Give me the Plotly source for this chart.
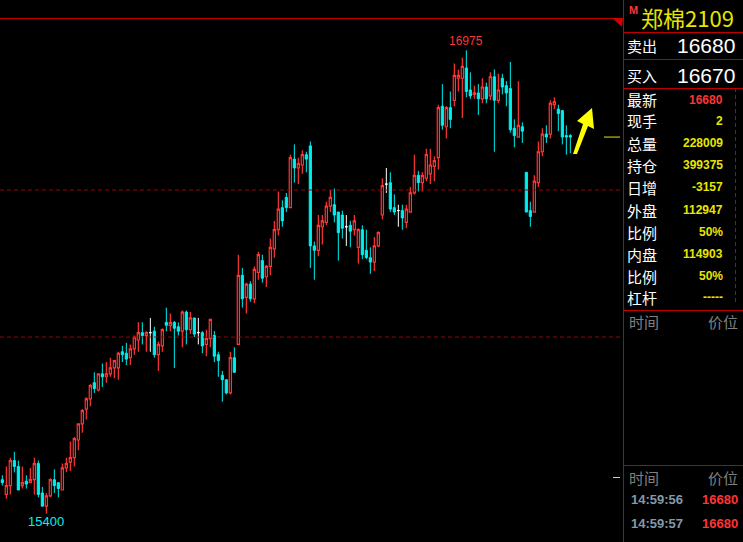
import plotly.graph_objects as go

# ---------------- data ----------------
opens = [15515, 15465, 15495, 15580, 15560, 15495, 15510, 15505, 15515, 15570,
         15470, 15425, 15460, 15515, 15505, 15480, 15555, 15575, 15590, 15650,
         15705, 15755, 15790, 15845, 15820, 15875, 15865, 15875, 15895, 15895,
         15950, 15945, 15930, 15960, 15990, 16015, 16005, 16015, 16020, 15940,
         15970, 16050, 16040, 16050, 16035, 16020, 16085, 16025, 16065, 16015,
         16015, 15975, 15995, 16005, 15940, 15870, 15855, 15810, 15930, 15975,
         16210, 16135, 16180, 16130, 16220, 16260, 16205, 16240, 16300, 16365,
         16440, 16475, 16440, 16605, 16575, 16585, 16620, 16650, 16310, 16295,
         16375, 16390, 16445, 16450, 16425, 16415, 16375, 16380, 16365, 16305,
         16365, 16295, 16270, 16255, 16310, 16415, 16520, 16525, 16440, 16430,
         16430, 16390, 16425, 16490, 16550, 16525, 16540, 16555, 16580, 16610,
         16785, 16715, 16780, 16805, 16880, 16880, 16915, 16840, 16825, 16830,
         16810, 16850, 16820, 16885, 16805, 16880, 16855, 16845, 16710, 16680,
         16715, 16560, 16430, 16425, 16525, 16630, 16690, 16690, 16790, 16775,
         16770, 16685, 16685]
highs = [15530, 15560, 15590, 15610, 15580, 15560, 15530, 15555, 15590, 15580,
         15490, 15470, 15520, 15550, 15505, 15570, 15590, 15645, 15660, 15705,
         15755, 15795, 15840, 15880, 15875, 15910, 15915, 15930, 15920, 15950,
         15970, 15980, 15975, 16005, 16050, 16050, 16020, 16065, 16035, 15985,
         16030, 16100, 16080, 16055, 16050, 16090, 16090, 16085, 16065, 16065,
         16020, 16025, 16060, 16020, 15950, 15885, 15855, 15950, 15965, 16280,
         16235, 16185, 16190, 16240, 16290, 16280, 16245, 16335, 16395, 16495,
         16465, 16490, 16620, 16655, 16610, 16635, 16630, 16665, 16325, 16415,
         16415, 16460, 16500, 16505, 16425, 16430, 16415, 16395, 16415, 16370,
         16380, 16365, 16305, 16340, 16360, 16540, 16575, 16560, 16485, 16450,
         16450, 16450, 16510, 16620, 16565, 16560, 16640, 16640, 16615, 16790,
         16860, 16785, 16835, 16930, 16910, 16950, 16975, 16900, 16855, 16860,
         16880, 16865, 16900, 16910, 16895, 16895, 16870, 16935, 16740, 16870,
         16730, 16560, 16460, 16550, 16665, 16710, 16720, 16805, 16815, 16790,
         16770, 16720, 16690]
lows = [15495, 15450, 15465, 15540, 15480, 15485, 15485, 15505, 15465, 15455,
        15425, 15400, 15455, 15470, 15455, 15480, 15540, 15545, 15560, 15615,
        15675, 15720, 15765, 15810, 15815, 15830, 15845, 15865, 15860, 15855,
        15915, 15905, 15905, 15940, 15950, 15975, 15950, 15950, 15930, 15885,
        15950, 16020, 16020, 15895, 16005, 15965, 15975, 16010, 16000, 15975,
        15945, 15935, 15965, 15915, 15865, 15780, 15805, 15805, 15880, 15975,
        16100, 16080, 16120, 16115, 16195, 16185, 16170, 16210, 16270, 16345,
        16375, 16425, 16440, 16525, 16520, 16555, 16560, 16235, 16195, 16275,
        16315, 16380, 16425, 16390, 16260, 16335, 16310, 16305, 16345, 16250,
        16265, 16265, 16215, 16225, 16305, 16400, 16490, 16425, 16415, 16375,
        16365, 16370, 16425, 16485, 16495, 16495, 16530, 16520, 16530, 16570,
        16705, 16675, 16710, 16785, 16835, 16745, 16815, 16810, 16810, 16755,
        16795, 16795, 16805, 16630, 16795, 16825, 16785, 16695, 16645, 16680,
        16660, 16425, 16375, 16425, 16510, 16615, 16660, 16675, 16775, 16700,
        16655, 16620, 16625]
closes = [15505, 15495, 15580, 15560, 15480, 15505, 15500, 15515, 15570, 15465,
          15425, 15460, 15515, 15495, 15485, 15555, 15570, 15590, 15655, 15705,
          15750, 15790, 15835, 15825, 15875, 15865, 15875, 15895, 15920, 15945,
          15940, 15925, 15960, 16000, 16015, 16005, 16015, 16015, 15940, 15975,
          16025, 16040, 16050, 16030, 16020, 16085, 16025, 16065, 16010, 16015,
          15970, 15995, 16060, 15935, 15920, 15855, 15810, 15930, 15880, 16210,
          16130, 16180, 16130, 16230, 16280, 16200, 16240, 16305, 16365, 16435,
          16395, 16440, 16610, 16575, 16590, 16620, 16605, 16310, 16295, 16380,
          16395, 16445, 16475, 16415, 16355, 16370, 16375, 16360, 16395, 16365,
          16280, 16270, 16255, 16310, 16355, 16515, 16520, 16435, 16425, 16430,
          16405, 16435, 16490, 16550, 16525, 16550, 16620, 16585, 16600, 16780,
          16720, 16780, 16740, 16890, 16890, 16920, 16835, 16820, 16830, 16810,
          16850, 16810, 16885, 16805, 16840, 16850, 16830, 16705, 16685, 16720,
          16700, 16425, 16410, 16530, 16630, 16690, 16680, 16795, 16800, 16760,
          16680, 16680, 16680]

dashed_levels = [16500, 16000]
last_price = 16680

contract = "郑棉2109"
quote_labels = ["卖出", "买入"]
quote_values = ["16680", "16670"]
info_labels = ["最新", "现手", "总量", "持仓", "日增", "外盘", "比例", "内盘", "比例", "杠杆"]
info_values = ["16680", "2", "228009", "399375", "-3157", "112947", "50%", "114903", "50%", "-----"]
tick_times = ["14:59:56", "14:59:57"]
tick_prices = ["16680", "16680"]

# ---------------- styling ----------------
W, H = 743, 542
PANEL_X = 623
RED = "#FF3434"
CYAN = "#00F0F0"
YELLOW = "#E6E600"
LINE_RED = "#C00000"
DASH_RED = "#A00000"

def px(x):
    return x / W

def py(y):
    return 1 - y / H

n = len(opens)
xs = list(range(n))
up = [i for i in xs if closes[i] > opens[i]]
dn = [i for i in xs if closes[i] < opens[i]]
dj = [i for i in xs if closes[i] == opens[i]]

def sub(idx):
    return dict(x=idx, open=[opens[i] for i in idx], high=[highs[i] for i in idx],
                low=[lows[i] for i in idx], close=[closes[i] for i in idx])

fig = go.Figure()
fig.add_trace(go.Candlestick(**sub(up), increasing=dict(line=dict(color=RED, width=1.2), fillcolor="black"),
                             decreasing=dict(line=dict(color=RED, width=1.2), fillcolor="black"),
                             whiskerwidth=0, hoverinfo="skip", showlegend=False))
fig.add_trace(go.Candlestick(**sub(dn), increasing=dict(line=dict(color=CYAN, width=1), fillcolor=CYAN),
                             decreasing=dict(line=dict(color=CYAN, width=1), fillcolor=CYAN),
                             whiskerwidth=0, hoverinfo="skip", showlegend=False))
fig.add_trace(go.Candlestick(**sub(dj), increasing=dict(line=dict(color="white", width=1), fillcolor="white"),
                             decreasing=dict(line=dict(color="white", width=1), fillcolor="white"),
                             whiskerwidth=0, hoverinfo="skip", showlegend=False))

# x/y ranges mapping to the chart pixel area
x_left = -2.33 / 4
x_right = (622 - 2.33) / 4
y_top = 17146
y_bot = 17146 - 3.4 * H

shapes = []
for lv in dashed_levels:
    shapes.append(dict(type="line", xref="paper", yref="y", x0=0, x1=px(620), y0=lv, y1=lv,
                       line=dict(color=DASH_RED, width=1, dash="4px,3px")))
shapes.append(dict(type="line", xref="paper", yref="paper", x0=0, x1=px(PANEL_X), y0=py(18.5), y1=py(18.5),
                   line=dict(color=LINE_RED, width=1)))
shapes.append(dict(type="line", xref="paper", yref="paper", x0=px(PANEL_X + 0.5), x1=px(PANEL_X + 0.5), y0=0, y1=1,
                   line=dict(color=LINE_RED, width=1)))
for yy in [32, 59, 88, 310, 465]:
    shapes.append(dict(type="line", xref="paper", yref="paper", x0=px(PANEL_X), x1=1, y0=py(yy + 0.5), y1=py(yy + 0.5),
                       line=dict(color=LINE_RED, width=1)))
shapes.append(dict(type="line", xref="paper", yref="paper", x0=px(735.5), x1=px(735.5), y0=py(88), y1=py(305),
                   line=dict(color=LINE_RED, width=1, dash="4px,3px")))
shapes.append(dict(type="path", xref="paper", yref="paper",
                   path=f"M {px(612)},{py(18)} L {px(623)},{py(18)} L {px(622)},{py(27)} Z",
                   fillcolor="#D00000", line=dict(width=0)))
shapes.append(dict(type="line", xref="paper", yref="y", x0=px(604), x1=px(620), y0=last_price, y1=last_price,
                   line=dict(color=YELLOW, width=1)))
shapes.append(dict(type="line", xref="paper", yref="paper", x0=px(613), x1=px(620), y0=py(477.5), y1=py(477.5),
                   line=dict(color=YELLOW, width=1)))
arrow_pts = [(573, 154), (583, 124), (577, 121), (592, 108), (594, 129), (588, 126), (577, 154)]
path = "M " + " L ".join(f"{px(a)},{py(b)}" for a, b in arrow_pts) + " Z"
shapes.append(dict(type="path", xref="paper", yref="paper", path=path, fillcolor="#FFFF00", line=dict(width=0)))

ann = []
def text(x, y, s, color, size, anchor="left", family="Noto Sans CJK SC", bold=False):
    ann.append(dict(xref="paper", yref="paper", x=px(x), y=py(y), text=(f"<b>{s}</b>" if bold else s),
                    showarrow=False, xanchor=anchor, yanchor="middle",
                    font=dict(color=color, size=size, family=family)))

hi_i = max(xs, key=lambda i: highs[i])
lo_i = min(xs, key=lambda i: lows[i])
ann.append(dict(x=hi_i, y=highs[hi_i], text=str(highs[hi_i]), showarrow=False, yshift=9, yanchor="middle",
                font=dict(color=RED, size=12, family="Liberation Sans")))
ann.append(dict(x=lo_i, y=lows[lo_i], text=str(lows[lo_i]), showarrow=False, yshift=-8, yanchor="middle",
                font=dict(color=CYAN, size=13, family="Liberation Sans")))

text(627, 10, "M", RED, 11, family="Liberation Sans", bold=True)
text(639, 17, contract, YELLOW, 22)
for k, (lab, val) in enumerate(zip(quote_labels, quote_values)):
    yy = 46 + 29 * k
    text(625, yy, lab, "white", 15)
    text(737, yy, val, "white", 21, anchor="right", family="Liberation Sans")
rows_y = [100, 121, 143, 165, 187, 210, 232, 254, 276, 297]
for lab, val, yy in zip(info_labels, info_values, rows_y):
    text(625, yy, lab, "white", 15)
    text(725, yy, val, RED if lab == "最新" else YELLOW, 12, anchor="right", family="Liberation Sans", bold=True)
for yy in [322, 477]:
    text(627, yy, "时间", "#808080", 15)
    text(740, yy, "价位", "#808080", 15, anchor="right")
for k, (t, p) in enumerate(zip(tick_times, tick_prices)):
    yy = 499 + 24 * k
    text(629, yy, t, "#8498A8", 13, family="Liberation Sans", bold=True)
    text(740, yy, p, RED, 13, anchor="right", family="Liberation Sans", bold=True)

fig.update_layout(
    width=W, height=H, margin=dict(l=0, r=0, t=0, b=0),
    paper_bgcolor="black", plot_bgcolor="black",
    boxgap=0.22, boxmode="overlay",
    xaxis=dict(domain=[0, 622 / W], range=[x_left, x_right], visible=False, rangeslider=dict(visible=False),
               fixedrange=True),
    yaxis=dict(range=[y_bot, y_top], visible=False, fixedrange=True),
    shapes=shapes, annotations=ann, showlegend=False,
)
fig.write_html("out.html", config=dict(displayModeBar=False),
               post_script="document.body.style.margin='0';document.body.style.background='black';")
